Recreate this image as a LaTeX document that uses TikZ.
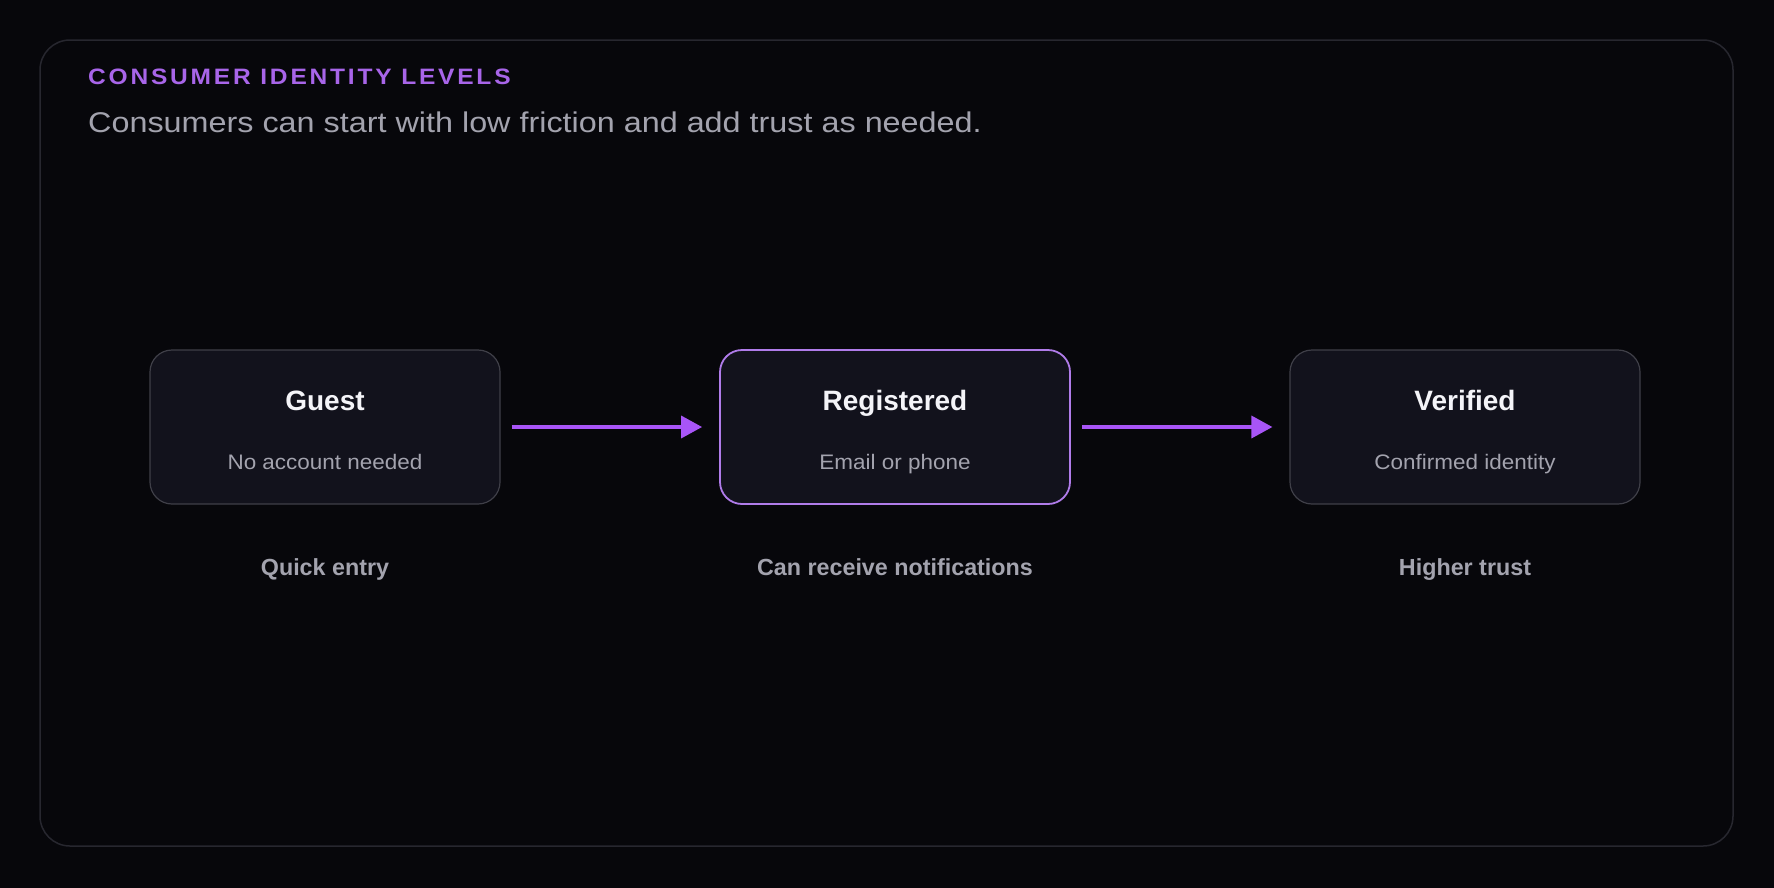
\documentclass[tikz,border=0pt]{standalone}
\usepackage{fontspec}
\setmainfont{Liberation Sans}
\newfontfamily\trackfont[LetterSpace=12.5,FakeStretch=1.1]{Liberation Sans}
\newfontfamily\widefont[FakeStretch=1.135]{Liberation Sans}
\newfontfamily\midfont[FakeStretch=1.07]{Liberation Sans}
\usetikzlibrary{arrows.meta}
\definecolor{bg}{HTML}{07070B}
\definecolor{framec}{HTML}{27272F}
\definecolor{boxfill}{HTML}{12121C}
\definecolor{boxline}{HTML}{3F3F48}
\definecolor{arrowc}{HTML}{A855F7}
\definecolor{regline}{HTML}{B07CEA}
\definecolor{titlec}{HTML}{A865E9}
\definecolor{subc}{HTML}{A3A3AE}
\definecolor{headc}{HTML}{F4F4F8}
\tikzset{
  stagebox/.style={draw=boxline, line width=1.2pt, fill=boxfill, rounded corners=22pt,
    minimum width=350pt, minimum height=154pt, inner sep=0pt},
  regbox/.style={stagebox, draw=regline, line width=1.8pt},
  headtext/.style={anchor=base, text=headc, font=\fontsize{28}{32}\selectfont\bfseries, inner sep=0pt},
  subtext/.style={anchor=base, text=subc, font=\midfont\fontsize{21}{25}\selectfont, inner sep=0pt},
  notetext/.style={anchor=base, text=subc, font=\fontsize{23.3}{28}\selectfont\bfseries, inner sep=0pt},
  flowarrow/.style={draw=arrowc, line width=3.5pt, -{Triangle[length=21pt,width=22pt]}},
}
\begin{document}
\begin{tikzpicture}[x=1pt,y=-1pt]
\useasboundingbox (0,0) rectangle (1774,887);
\fill[bg] (-10,-10) rectangle (1784,897);
\draw[framec, line width=1.5pt, rounded corners=30pt] (40,40) rectangle (1733,846);
\node[anchor=base west, inner sep=0pt, text=titlec, font=\trackfont\fontsize{22.3}{26}\selectfont\bfseries] (title) at (88,84.3) {CONSUMER IDENTITY LEVELS};
\node[anchor=base west, inner sep=0pt, text=subc, font=\widefont\fontsize{28.5}{34}\selectfont] (subtitle) at (88,132.3) {Consumers can start with low friction and add trust as needed.};

\node[stagebox] (guest) at (325,427) {};
\node[regbox] (reg) at (895,427) {};
\node[stagebox] (ver) at (1465,427) {};

\node[headtext] (guestT) at (325,410) {Guest};
\node[subtext] (guestS) at (325,469) {No account needed};
\node[headtext] (regT) at (895,410) {Registered};
\node[subtext] (regS) at (895,469) {Email or phone};
\node[headtext] (verT) at (1465,410) {Verified};
\node[subtext] (verS) at (1465,469) {Confirmed identity};

\node[notetext] (guestN) at (325,575) {Quick entry};
\node[notetext] (regN) at (895,575) {Can receive notifications};
\node[notetext] (verN) at (1465,575) {Higher trust};

\draw[flowarrow] ([xshift=11pt]guest.east) -- ([xshift=-17pt]reg.west);
\draw[flowarrow] ([xshift=11pt]reg.east) -- ([xshift=-17pt]ver.west);
\end{tikzpicture}
\end{document}
